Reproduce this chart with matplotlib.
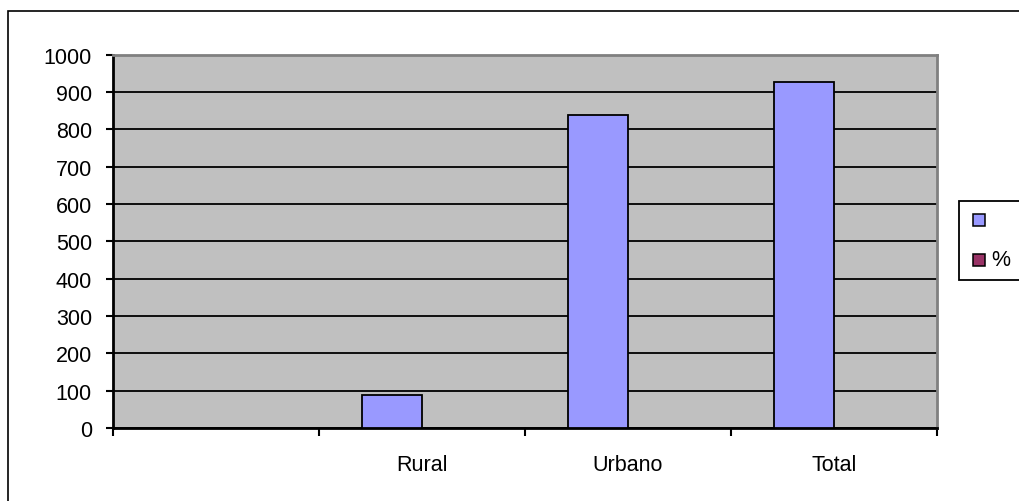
# bar chart: rural / urban / total counts plus their share (%)

import numpy as np
import matplotlib.pyplot as plt
from matplotlib.patches import Rectangle

plt.rcParams['font.family'] = ['Liberation Sans', 'DejaVu Sans']

categories = ['', 'Rural', 'Urbano', 'Total']
counts = [0, 89, 838, 927]
shares = [0, 0.096, 0.904, 1.0]
yticks = list(range(0, 1001, 100))

W, H = 1019, 502
fs = 15.5
fig = plt.figure(figsize=(W / 100, H / 100), dpi=100)


def px(x, y):
    # pixel position (from top-left) -> figure fraction
    return x / W, 1 - y / H


ax = fig.add_axes([112.7 / W, 1 - 429 / H, 824 / W, 373.3 / H])
ax.set_facecolor('#C0C0C0')

x = np.arange(len(categories))
bw = 0.292
ax.bar(x - bw / 2, counts, bw, color='#9999FF', edgecolor='black', linewidth=1.3, zorder=3)
ax.bar(x + bw / 2, shares, bw, color='#993366', edgecolor='black', linewidth=1.3, zorder=3)

ax.set_xlim(-0.5, len(categories) - 0.5)
ax.set_ylim(0, 1000)
ax.set_yticks(yticks)
ax.yaxis.grid(True, color='black', linewidth=1.3, zorder=1)
ax.set_axisbelow(True)

# category boundaries as major ticks, names centred as minor ticks
ax.set_xticks(np.arange(len(categories) + 1) - 0.5)
ax.set_xticklabels([])
ax.set_xticks(x, minor=True)
ax.set_xticklabels(categories, minor=True)
ax.tick_params(axis='x', which='minor', length=0, pad=18.5, labelsize=fs)
ax.tick_params(axis='x', which='major', direction='out', length=6, width=1.5)
ax.tick_params(axis='y', direction='out', length=5, width=1.5, pad=10, labelsize=fs)

for side in ['left', 'bottom']:
    ax.spines[side].set_linewidth(2)
    ax.spines[side].set_color('black')
for side in ['top', 'right']:
    ax.spines[side].set_linewidth(2)
    ax.spines[side].set_color('#808080')

# legend box
fig.add_artist(Rectangle(px(959, 281), 80 / W, 79 / H, transform=fig.transFigure,
                         facecolor='white', edgecolor='black', linewidth=1.3))
fig.add_artist(Rectangle(px(973, 226.5), 12 / W, 12 / H, transform=fig.transFigure,
                         facecolor='#9999FF', edgecolor='black', linewidth=1.1))
fig.add_artist(Rectangle(px(973, 266.5), 12 / W, 12 / H, transform=fig.transFigure,
                         facecolor='#993366', edgecolor='black', linewidth=1.1))
fig.text(*px(991, 261), '%', fontsize=fs, va='center', ha='left')

# outer chart border
fig.add_artist(Rectangle(px(8, 520), 1030 / W, 508 / H, transform=fig.transFigure,
                         facecolor='none', edgecolor='black', linewidth=1.2))

plt.savefig('out.png', dpi=100)
